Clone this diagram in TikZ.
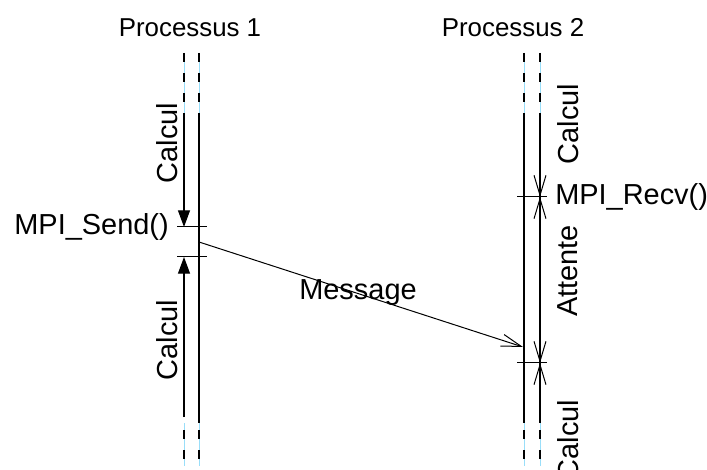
\documentclass[tikz,border=0pt]{standalone}
\usepackage{fontspec}
\setmainfont{Liberation Sans}
\usetikzlibrary{arrows.meta}

\begin{document}
\begin{tikzpicture}[x=0.75pt,y=-0.75pt,
    every node/.style={font=\fontsize{21.7}{26}\selectfont,inner sep=0pt},
    titre/.style={font=\fontsize{19.4}{23}\selectfont},
    epais/.style={line width=2.2pt},
    fin/.style={line width=0.9pt},
    trait/.style={line width=0.75pt},
    pointille/.style={dash pattern=on 6.75pt off 8.25pt},
    fond/.style={cyan!40,line width=0.6pt},
    plein/.style={-{Triangle[length=12.5pt,width=9pt]}},
    ouvert/.style={-{Straight Barb[length=15pt,width=9pt]}},
    ouverts/.style={{Straight Barb[length=15pt,width=9pt]}-{Straight Barb[length=15pt,width=9pt]}}]
  \useasboundingbox (0,0) rectangle (707,470);

  % titres
  \node[titre] (p1) at (190,28) {Processus 1};
  \node[titre] (p2) at (513,28) {Processus 2};

  % lignes de vie (parties pointillees)
  \foreach \x/\w in {184/fin,199/epais,524/epais,540/fin} {
    \draw[fond] (\x,53) -- (\x,118);
    \draw[fond] (\x,423) -- (\x,466);
    \draw[\w,pointille] (\x,53) -- (\x,118);
    \draw[\w,pointille] (\x,430) -- (\x,466);
  }
  \draw[epais] (199,118) -- (199,423);
  \draw[epais] (524,118) -- (524,423);
  \draw[fin] (540,118) -- (540,423);

  % processus 1
  \coordinate (h1) at (184,118);
  \coordinate (b1) at (184,417);
  \coordinate (send) at (184,227);
  \coordinate (sendb) at (184,257);
  \coordinate (emis) at (199,242);
  \draw[trait] (177,227) -- (207,227);
  \draw[trait] (177,257) -- (207,257);
  \draw[fin,plein] (h1) -- (send);
  \draw[fin,plein] (b1) -- (sendb);
  \node[anchor=east] (sendlbl) at (169,227) {MPI\_Send()};
  \node[rotate=90] (calc1) at (167,143) {Calcul};
  \node[rotate=90] (calc2) at (167,340) {Calcul};

  % processus 2
  \coordinate (h2) at (540,118);
  \coordinate (b2) at (540,423);
  \coordinate (recv) at (540,197);
  \coordinate (fin2) at (540,363);
  \coordinate (recu) at (523,347);
  \draw[trait] (517,197) -- (547,197);
  \draw[trait] (517,363) -- (547,363);
  \draw[trait,ouvert] (h2) -- (recv);
  \draw[trait,ouverts] (recv) -- (fin2);
  \draw[trait,ouvert] (b2) -- (fin2);
  \node[anchor=west] (recvlbl) at (555,197) {MPI\_Recv()};
  \node[rotate=90] (calc3) at (568,124) {Calcul};
  \node[rotate=90] (att) at (568,271) {Attente};
  \node[rotate=90] (calc4) at (568,440) {Calcul};

  % message
  \draw[trait,ouvert] (emis) -- (recu);
  \node (msg) at (358,293) {Message};
\end{tikzpicture}
\end{document}
